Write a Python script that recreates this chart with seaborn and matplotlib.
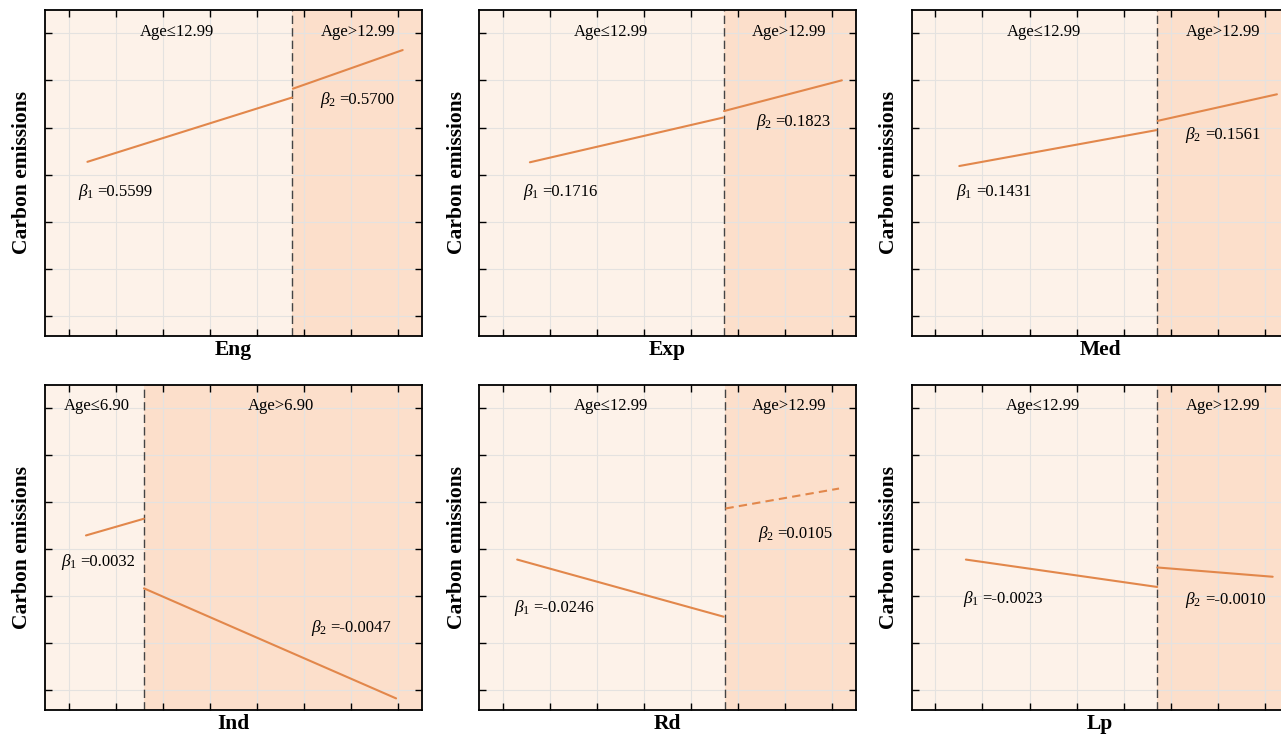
import matplotlib
matplotlib.use('Agg')
import numpy as np
import pandas as pd
import matplotlib.pyplot as plt
import seaborn as sns

# Datos (unidades arbitrarias del eje, sin etiquetas numéricas)
variables = ['Eng', 'Exp', 'Med', 'Ind', 'Rd', 'Lp']
umbrales = [5.24, 5.20, 5.21, 2.10, 5.21, 5.21]
etiq_izq = ['Age≤12.99', 'Age≤12.99', 'Age≤12.99', 'Age≤6.90', 'Age≤12.99', 'Age≤12.99']
etiq_der = ['Age>12.99', 'Age>12.99', 'Age>12.99', 'Age>6.90', 'Age>12.99', 'Age>12.99']
beta1 = ['0.5599', '0.1716', '0.1431', '0.0032', '-0.0246', '-0.0023']
beta2 = ['0.5700', '0.1823', '0.1561', '-0.0047', '0.0105', '-0.0010']

# Tramo 1 (antes del umbral) y tramo 2 (después)
tramo1_x = [[0.90, 5.24], [1.08, 5.18], [1.01, 5.19], [0.87, 2.10], [0.81, 5.19], [1.15, 5.21]]
tramo1_y = [[3.74, 5.12], [3.73, 4.69], [3.65, 4.42], [3.76, 4.12], [3.24, 2.01], [3.24, 2.65]]
tramo2_x = [[5.26, 7.59], [5.20, 7.70], [5.22, 7.75], [2.10, 7.45], [5.23, 7.64], [5.21, 7.66]]
tramo2_y = [[5.31, 6.14], [4.83, 5.49], [4.62, 5.19], [2.62, 0.25], [4.34, 4.77], [3.07, 2.87]]
tramo2_significativo = [True, True, True, True, False, True]

# Posiciones de las anotaciones (x, y en coordenadas de datos)
pos_izq = [(2.8, 6.53), (2.8, 6.53), (2.81, 6.53), (1.1, 6.54), (2.79, 6.54), (2.79, 6.54)]
pos_der = [(6.65, 6.53), (6.59, 6.53), (6.6, 6.53), (5.0, 6.54), (6.59, 6.54), (6.6, 6.54)]
pos_b1 = [(0.69, 3.1), (0.93, 3.1), (0.95, 3.1), (0.33, 3.19), (0.74, 2.19), (1.09, 2.4)]
pos_b2 = [(5.83, 5.06), (5.87, 4.6), (5.81, 4.31), (5.64, 1.76), (5.92, 3.78), (5.81, 2.37)]

COLOR_LINEA = '#E2874B'
FONDO_IZQ = '#FDF2E9'
FONDO_DER = '#FCDFCB'

sns.set_theme(style='ticks')
plt.rcParams['font.family'] = ['Liberation Serif', 'DejaVu Serif']
plt.rcParams['mathtext.fontset'] = 'custom'
plt.rcParams['mathtext.rm'] = 'Liberation Serif'
plt.rcParams['mathtext.it'] = 'Liberation Serif:italic'
plt.rcParams['text.color'] = 'black'
plt.rcParams['axes.labelcolor'] = 'black'

fig = plt.figure(figsize=(12.81, 7.39), dpi=100)

W = 1281.0
H = 739.0
izquierdas = [45, 479, 911.7]
filas = [(336, 326), (710, 325)]


def etiqueta_beta(ax, pos, sub, valor):
    # el símbolo en mathtext y el número como texto normal (evita huecos de kerning)
    ax.text(pos[0], pos[1], r'$\beta_{%d}$' % sub, fontsize=12.5, ha='left', va='center')
    ax.annotate('=' + valor, xy=pos, xytext=(14, 0), textcoords='offset points',
                fontsize=12, ha='left', va='center')


for i, var in enumerate(variables):
    fila, col = divmod(i, 3)
    base, alto = filas[fila]
    ax = fig.add_axes([izquierdas[col] / W, 1 - base / H, 377 / W, alto / H])

    ax.set_facecolor(FONDO_IZQ)
    ax.axvspan(umbrales[i], 8, color=FONDO_DER, lw=0, zorder=0)
    ax.axvline(umbrales[i], color='#444444', ls=(0, (6, 3)), lw=1.0, zorder=2)

    df1 = pd.DataFrame({'x': tramo1_x[i], 'y': tramo1_y[i]})
    df2 = pd.DataFrame({'x': tramo2_x[i], 'y': tramo2_y[i]})
    sns.lineplot(data=df1, x='x', y='y', ax=ax, color=COLOR_LINEA, lw=1.5, zorder=3)
    sns.lineplot(data=df2, x='x', y='y', ax=ax, color=COLOR_LINEA, lw=1.5, zorder=3,
                 linestyle='-' if tramo2_significativo[i] else (0, (4, 2.5)))

    ax.set_xlim(0, 8)
    ax.set_ylim(0, 7)
    ax.set_xticks(np.arange(0.5, 8, 1))
    ax.set_yticks(np.linspace(0.43, 6.5, 7))
    ax.grid(True, color='#E4E2E0', lw=0.8, zorder=0.5)
    ax.tick_params(direction='in', top=True, right=True, length=5, width=1,
                   labelbottom=False, labelleft=False, color='black')
    for s in ax.spines.values():
        s.set_color('black')
        s.set_linewidth(1.3)

    ax.set_xlabel(var, fontsize=15.5, fontweight='bold', labelpad=3)
    ax.set_ylabel('Carbon emissions', fontsize=15.5, fontweight='bold', labelpad=9)

    ax.text(*pos_izq[i], etiq_izq[i], fontsize=12, ha='center', va='center')
    ax.text(*pos_der[i], etiq_der[i], fontsize=12, ha='center', va='center')
    etiqueta_beta(ax, pos_b1[i], 1, beta1[i])
    etiqueta_beta(ax, pos_b2[i], 2, beta2[i])

fig.savefig('out.png', dpi=100)
plt.close(fig)
